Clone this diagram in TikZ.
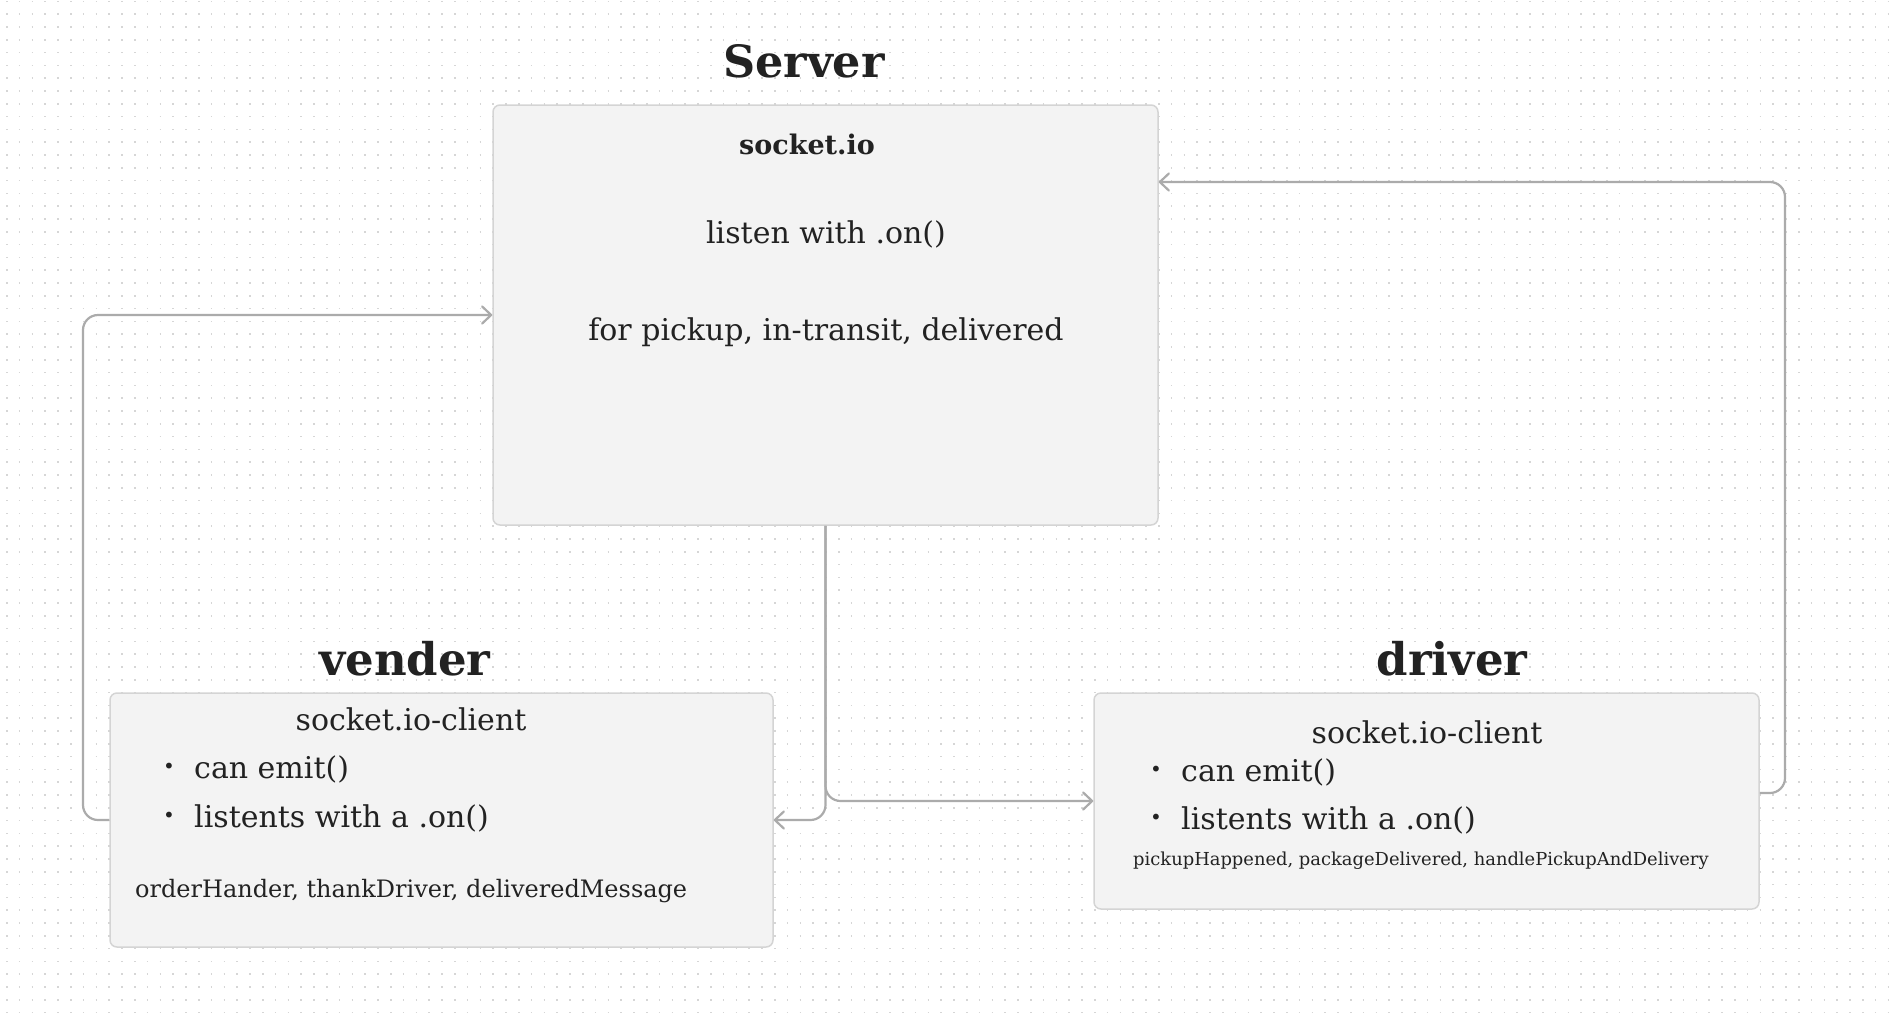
\documentclass[tikz,border=0pt]{standalone}
\usepackage{fontspec}
\setmainfont{DejaVu Serif}
\usetikzlibrary{arrows.meta,calc}
\definecolor{txt}{HTML}{222222}
\definecolor{connc}{HTML}{ABABAB}
\definecolor{boxfill}{HTML}{F3F3F3}
\definecolor{boxline}{HTML}{D4D4D4}
\definecolor{dotc}{HTML}{D6D6D6}
\newcommand\myfs[1]{\fontsize{#1}{#1}\selectfont}
\begin{document}
\begin{tikzpicture}[x=1pt,y=-1pt,
  box/.style={draw=boxline, fill=boxfill, line width=1.5pt, rounded corners=7pt, inner sep=0pt},
  lbl/.style={text=txt, inner sep=0pt, anchor=base},
  lblw/.style={text=txt, inner sep=0pt, anchor=base west},
  bul/.style={text=txt, inner sep=0pt, font=\myfs{20}},
  title/.style={lbl, font=\myfs{45}\bfseries},
  body/.style={font=\myfs{30}},
  conn/.style={draw=connc, line width=2.2pt, rounded corners=15pt, -{Straight Barb[length=9pt,width=17pt,round]}}]
\useasboundingbox (0,0) rectangle (1892,1015);
\fill[white] (0,0) rectangle (1892,1015);
% dot grid
\foreach \r in {0,...,79} {
  \draw[dotc, line width=1.6pt, dash pattern=on 1.6pt off 11.2pt] (6,{1.3+12.8*\r}) -- (1892,{1.3+12.8*\r});
}
% boxes
\node[box, minimum width=665pt, minimum height=420pt] (sbox) at (825.5,315) {};
\node[box, minimum width=663pt, minimum height=254pt] (vbox) at (441.5,820) {};
\node[box, minimum width=665pt, minimum height=216pt] (dbox) at (1426.5,801) {};
% titles
\node[title, font=\myfs{44.5}\bfseries] (tS) at (804,77) {Server};
\node[title] (tV) at (405,675) {vender};
\node[title] (tD) at (1452,675) {driver};
% server text
\node[lbl, font=\myfs{27}\bfseries] (s1) at (807,154) {socket.io};
\node[lbl, body] (s2) at (826,243) {listen with .on()};
\node[lbl, body] (s3) at (826,340) {for pickup, in-transit, delivered};
% vender text
\node[lbl, body] (v0) at (411,730) {socket.io-client};
\node[bul] (vb1) at (169,768) {•};
\node[lblw, body] (v1) at (194,778) {can emit()};
\node[bul] (vb2) at (169,817) {•};
\node[lblw, body] (v2) at (194,827) {listents with a .on()};
\node[lblw, font=\myfs{24}] (v3) at (135,897) {orderHander, thankDriver, deliveredMessage};
% driver text
\node[lbl, body] (d0) at (1427,743) {socket.io-client};
\node[bul] (db1) at (1156,771) {•};
\node[lblw, body] (d1) at (1181,781) {can emit()};
\node[bul] (db2) at (1156,819) {•};
\node[lblw, body] (d2) at (1181,829) {listents with a .on()};
\node[lblw, font=\myfs{17.9}] (d3) at (1133,865) {pickupHappened, packageDelivered, handlePickupAndDelivery};
% connectors
\coordinate (vl) at (83,820);
\coordinate (dr) at (1785,182);
\coordinate (sr) at (sbox.east |- dr);
\draw[conn] (vbox.west) -- (vl) |- (sbox.west);
\draw[conn] ($(dbox.east)+(0,-8)$) -| (dr) -- (sr);
\draw[conn] (sbox.south) |- (vbox.east);
\draw[conn] (sbox.south) |- (dbox.west);
\end{tikzpicture}
\end{document}
